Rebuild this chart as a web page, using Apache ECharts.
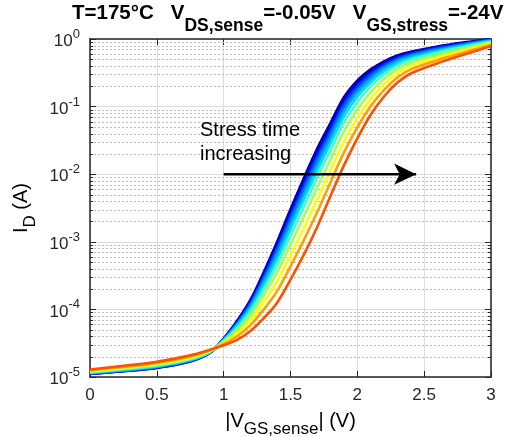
<!DOCTYPE html>
<html><head><meta charset="utf-8">
<script src="https://cdn.jsdelivr.net/npm/echarts@6/dist/echarts.min.js"></script>
<style>html,body{margin:0;padding:0;background:#fff}#c{width:513px;height:437px}</style>
</head><body><div id="c"></div>
<script>
// |V_GS,sense| sample points (V)
const gateVoltage = [0, 0.25, 0.5, 0.75, 0.9, 1.0, 1.1, 1.2, 1.3, 1.4, 1.5, 1.6, 1.7, 1.8, 1.9, 2.0, 2.1, 2.2, 2.3, 2.4, 2.6, 2.8, 3.0];
// log10(I_D / A), one array per stress time (earliest first)
const stress01 = [-4.955,-4.915,-4.865,-4.77,-4.64,-4.43,-4.17,-3.86,-3.45,-3.0,-2.52,-2.06,-1.62,-1.24,-0.86,-0.615,-0.45,-0.33,-0.245,-0.19,-0.11,-0.05,0.0];
const stress02 = [-4.952,-4.911,-4.861,-4.766,-4.638,-4.435,-4.184,-3.883,-3.484,-3.045,-2.572,-2.117,-1.678,-1.294,-0.911,-0.658,-0.484,-0.356,-0.265,-0.206,-0.123,-0.059,-0.005];
const stress03 = [-4.949,-4.907,-4.856,-4.761,-4.636,-4.44,-4.198,-3.906,-3.518,-3.09,-2.624,-2.173,-1.736,-1.348,-0.961,-0.701,-0.517,-0.382,-0.285,-0.222,-0.135,-0.068,-0.011];
const stress04 = [-4.945,-4.903,-4.852,-4.757,-4.633,-4.445,-4.212,-3.929,-3.552,-3.135,-2.676,-2.23,-1.794,-1.402,-1.012,-0.743,-0.551,-0.408,-0.305,-0.238,-0.148,-0.077,-0.016];
const stress05 = [-4.941,-4.898,-4.846,-4.751,-4.631,-4.451,-4.229,-3.957,-3.593,-3.189,-2.738,-2.297,-1.864,-1.467,-1.072,-0.795,-0.591,-0.439,-0.329,-0.257,-0.163,-0.088,-0.022];
const stress06 = [-4.937,-4.893,-4.84,-4.745,-4.627,-4.458,-4.248,-3.989,-3.64,-3.252,-2.811,-2.376,-1.945,-1.542,-1.143,-0.854,-0.638,-0.476,-0.357,-0.28,-0.18,-0.10,-0.029];
const stress07 = [-4.931,-4.885,-4.832,-4.737,-4.623,-4.467,-4.274,-4.03,-3.702,-3.333,-2.905,-2.478,-2.049,-1.64,-1.234,-0.931,-0.698,-0.522,-0.393,-0.308,-0.203,-0.117,-0.039];
const stress08 = [-4.923,-4.875,-4.82,-4.725,-4.618,-4.48,-4.31,-4.09,-3.79,-3.45,-3.04,-2.625,-2.20,-1.78,-1.365,-1.043,-0.785,-0.59,-0.445,-0.35,-0.235,-0.14,-0.053];
const stress09 = [-4.913,-4.863,-4.807,-4.712,-4.611,-4.495,-4.352,-4.159,-3.892,-3.585,-3.196,-2.795,-2.374,-1.942,-1.517,-1.171,-0.886,-0.668,-0.505,-0.398,-0.273,-0.167,-0.068];
const stress10 = [-4.902,-4.85,-4.792,-4.697,-4.604,-4.511,-4.397,-4.233,-4.001,-3.729,-3.362,-2.975,-2.56,-2.115,-1.678,-1.308,-0.993,-0.751,-0.569,-0.449,-0.313,-0.196,-0.085];
const stress11 = [-4.89,-4.835,-4.775,-4.68,-4.595,-4.53,-4.45,-4.32,-4.13,-3.9,-3.56,-3.19,-2.78,-2.32,-1.87,-1.47,-1.12,-0.85,-0.645,-0.51,-0.36,-0.23,-0.105];
const curveColors = ['#00009a','#0000ec','#0034ff','#0070ff','#00a8ff','#00dcff','#40ffbf','#a0ff60','#ffff00','#ffa000','#ff5000'];

// axes
const xTickValues = [0, 0.5, 1, 1.5, 2, 2.5, 3];
const yTickExponents = [-5, -4, -3, -2, -1, 0];
const minorMantissas = [2, 3, 4, 5, 6, 7, 8, 9];

// annotation arrow (V, log10 I)
const arrowStart = [1.0, -2];
const arrowEnd = [2.44, -2];

const curves = [stress01,stress02,stress03,stress04,stress05,stress06,stress07,stress08,stress09,stress10,stress11];
const FONT = "'Liberation Sans', Arial, Helvetica, sans-serif";
const AX = '#262626';

const minorValues = [];
for (let i = 0; i < yTickExponents.length - 1; i++) {
  minorMantissas.forEach(m => minorValues.push(yTickExponents[i] + Math.log10(m)));
}

const series = [];
series.push({
  type: 'custom', xAxisIndex: 0, yAxisIndex: 0, silent: true, z: 1,
  data: minorValues.map(v => [0, v]),
  renderItem: function (params, api) {
    const cs = params.coordSys;
    const y = Math.round(api.coord([0, api.value(1)])[1]) + 0.5;
    const x0 = cs.x, x1 = cs.x + cs.width;
    return { type: 'group', children: [
      { type: 'line', shape: { x1: x0, y1: y, x2: x1, y2: y }, style: { stroke: '#bdbdbd', lineWidth: 1, lineDash: [2, 2] } },
      { type: 'line', shape: { x1: x0, y1: y, x2: x0 + 3, y2: y }, style: { stroke: AX, lineWidth: 1 } },
      { type: 'line', shape: { x1: x1 - 3, y1: y, x2: x1, y2: y }, style: { stroke: AX, lineWidth: 1 } }
    ]};
  }
});
curves.forEach((c, k) => {
  series.push({
    name: 'stress ' + (k + 1), type: 'line', xAxisIndex: 0, yAxisIndex: 0,
    data: gateVoltage.map((v, i) => [v, c[i]]),
    smooth: 0.35, symbol: 'none', z: 3 + k,
    lineStyle: { color: curveColors[k], width: 2.6 }, itemStyle: { color: curveColors[k] }
  });
});
series.push({
  type: 'line', xAxisIndex: 0, yAxisIndex: 0, z: 30, silent: true,
  symbol: 'none', showSymbol: true,
  data: [arrowStart, { value: arrowEnd, symbol: 'arrow', symbolSize: [16, 22], symbolRotate: -90 }],
  lineStyle: { color: '#000', width: 2.6 }, itemStyle: { color: '#000' }
});

const subRich = {
  m: { fontSize: 20, fontFamily: FONT, verticalAlign: 'top', color: '#000' },
  sub: { fontSize: 17, fontFamily: FONT, verticalAlign: 'top', padding: [10, 0, 0, 0], color: '#000' }
};
const subRichBold = {
  m: { fontSize: 20.5, fontFamily: FONT, fontWeight: 'bold', verticalAlign: 'top', color: '#000' },
  sub: { fontSize: 17.5, fontFamily: FONT, fontWeight: 'bold', verticalAlign: 'top', padding: [14, 0, 0, 0], color: '#000' }
};

const option = {
  animation: false,
  backgroundColor: '#fff',
  title: {
    text: '{m|T=175°C   V}{sub|DS,sense}{m|=-0.05V   V}{sub|GS,stress}{m|=-24V}',
    left: 72, top: 3, padding: 0,
    textStyle: { rich: subRichBold }
  },
  grid: { left: 90, right: 22, top: 39, bottom: 60, containLabel: false, outerBoundsMode: 'none' },
  xAxis: [{
    type: 'value', min: 0, max: 3, interval: 0.5, position: 'bottom',
    axisLine: { show: true, onZero: false, lineStyle: { color: AX, width: 1.5 } },
    axisTick: { show: true, inside: true, length: 6, lineStyle: { color: AX } },
    axisLabel: { color: AX, fontSize: 17, fontFamily: FONT, margin: 10 },
    splitLine: { show: true, lineStyle: { color: '#dcdcdc', width: 1 } },
    name: '{m||V}{sub|GS,sense}{m|| (V)}', nameLocation: 'middle', nameGap: 34,
    nameTextStyle: { rich: subRich }
  }, {
    type: 'value', min: 0, max: 3, interval: 0.5, position: 'top',
    axisLine: { show: true, onZero: false, lineStyle: { color: AX, width: 1.5 } },
    axisTick: { show: true, inside: true, length: 6, lineStyle: { color: AX } },
    axisLabel: { show: false }, splitLine: { show: false }
  }],
  yAxis: [{
    type: 'value', min: -5, max: 0, interval: 1, position: 'left',
    axisLine: { show: true, onZero: false, lineStyle: { color: AX, width: 1.5 } },
    axisTick: { show: true, inside: true, length: 6, lineStyle: { color: AX } },
    axisLabel: {
      margin: 10, color: AX,
      formatter: v => '{b|10}{s|' + v + '}',
      rich: {
        b: { fontSize: 17, fontFamily: FONT, color: AX, verticalAlign: 'bottom' },
        s: { fontSize: 13, fontFamily: FONT, color: AX, verticalAlign: 'bottom', padding: [0, 0, 9, 0] }
      }
    },
    splitLine: { show: true, lineStyle: { color: '#dcdcdc', width: 1 } },
    name: '{m|I}{sub|D}{m| (A)}', nameLocation: 'middle', nameGap: 42, nameRotate: 90,
    nameTextStyle: { rich: subRich }
  }, {
    type: 'value', min: -5, max: 0, interval: 1, position: 'right',
    axisLine: { show: true, onZero: false, lineStyle: { color: AX, width: 1.5 } },
    axisTick: { show: true, inside: true, length: 6, lineStyle: { color: AX } },
    axisLabel: { show: false }, splitLine: { show: false }
  }],
  graphic: [{
    type: 'text', left: 200, top: 118, z: 40,
    style: { text: 'Stress time\nincreasing', fontSize: 20, fontFamily: FONT, lineHeight: 24, fill: '#000' }
  }],
  series: series
};
const chart = echarts.init(document.getElementById('c'), null, { renderer: 'canvas' });
chart.setOption(option);
</script>
</body></html>
